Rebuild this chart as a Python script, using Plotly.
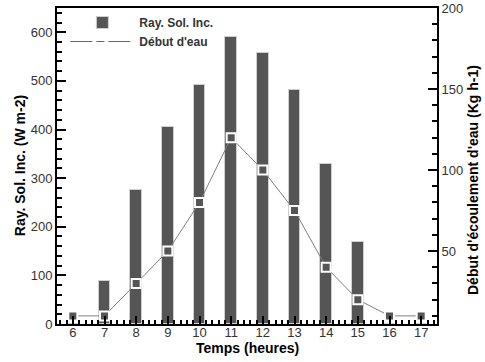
import plotly.graph_objects as go

hours = [6, 7, 8, 9, 10, 11, 12, 13, 14, 15, 16, 17]
ray_sol_inc = [0, 89, 276, 406, 492, 590, 557, 481, 329, 168, 0, 0]
debut_eau = [10, 10, 30, 50, 80, 120, 100, 75, 40, 20, 10, 10]

FONT = "Liberation Sans, Arial, sans-serif"
TXT = "#333333"
TITLE_FONT = dict(family=FONT, size=14, color="black", weight="bold")

fig = go.Figure()
fig.add_trace(go.Bar(
    x=hours, y=ray_sol_inc, name="Ray. Sol. Inc.", width=0.36,
    marker=dict(color="#555555", line=dict(color="#d0d0d0", width=1)),
    yaxis="y",
))
fig.add_trace(go.Scatter(
    x=hours, y=debut_eau, mode="lines+markers", showlegend=False,
    line=dict(color="#808080", width=1),
    marker=dict(symbol="square", size=9, color="#555555",
                line=dict(color="white", width=2)),
    yaxis="y2",
))
fig.add_trace(go.Scatter(
    x=[None], y=[None], mode="lines", name="Début d'eau",
    line=dict(color="#666666", width=1, dash="22px,4px,8px,4px,22px"), yaxis="y2",
))

fig.update_layout(
    width=485, height=362,
    margin=dict(l=57, r=48, t=8, b=38),
    paper_bgcolor="white", plot_bgcolor="white",
    font=dict(family=FONT, size=13, color=TXT),
    bargap=0,
    legend=dict(x=0.022, y=1.0, xanchor="left", yanchor="top",
                bgcolor="rgba(0,0,0,0)", itemwidth=64, tracegroupgap=0,
                font=dict(family=FONT, size=12, color=TXT, weight="bold")),
    xaxis=dict(
        range=[5.5, 17.5], tickmode="linear", tick0=6, dtick=1,
        showline=True, linecolor="black", linewidth=2, mirror=True,
        ticks="inside", ticklen=8, tickwidth=1.5, tickcolor="black",
        minor=dict(dtick=0.2, ticks="inside", ticklen=4, tickcolor="black"),
        showgrid=False, zeroline=False, automargin=False,
        ticklabelstandoff=-5,
        tickfont=dict(family=FONT, size=13, color=TXT),
    ),
    yaxis=dict(
        range=[0, 650], tickmode="linear", tick0=0, dtick=100,
        showline=True, linecolor="black", linewidth=2,
        ticks="inside", ticklen=9, tickwidth=1.5, tickcolor="black",
        minor=dict(dtick=20, ticks="inside", ticklen=5, tickcolor="black"),
        showgrid=False, zeroline=False, automargin=False,
        tickfont=dict(family=FONT, size=13, color=TXT),
    ),
    yaxis2=dict(
        range=[5, 200.01], overlaying="y", side="right", tickmode="linear",
        tick0=0, dtick=50,
        showline=True, linecolor="black", linewidth=2,
        ticks="inside", ticklen=9, tickwidth=1.5, tickcolor="black",
        minor=dict(dtick=10, ticks="inside", ticklen=5, tickcolor="black"),
        showgrid=False, zeroline=False, automargin=False,
        tickfont=dict(family=FONT, size=13, color=TXT),
    ),
    annotations=[
        dict(text="Temps (heures)", xref="paper", yref="paper", x=0.5, y=-0.076,
             xanchor="center", yanchor="middle", showarrow=False, font=TITLE_FONT),
        dict(text="Ray. Sol. Inc. (W m-2)", xref="paper", yref="paper", x=-0.097, y=0.5,
             xanchor="center", yanchor="middle", showarrow=False, textangle=-90,
             font=TITLE_FONT),
        dict(text="Début d'écoulement d'eau (Kg h-1)", xref="paper", yref="paper",
             x=1.095, y=0.456, xanchor="center", yanchor="middle", showarrow=False,
             textangle=-90, font=TITLE_FONT),
    ],
)

fig.write_html("out.html", config={"displayModeBar": False},
               post_script="document.body.style.margin='0';")
